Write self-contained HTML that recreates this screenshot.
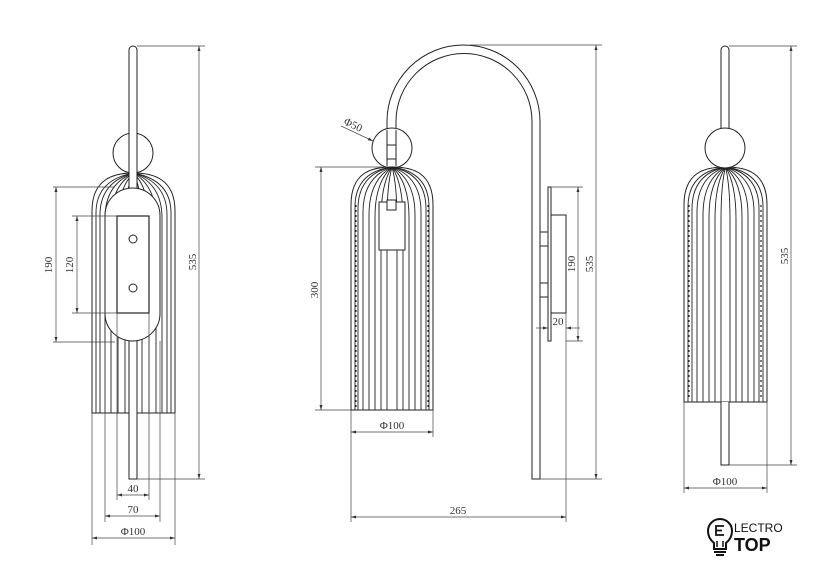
<!DOCTYPE html>
<html><head><meta charset="utf-8"><style>
html,body{margin:0;padding:0;background:#fff;}
svg{display:block;}
text{font-family:"Liberation Serif",serif;font-size:11px;fill:#333;}
</style></head><body>
<svg width="840" height="572" viewBox="0 0 840 572" xmlns="http://www.w3.org/2000/svg">
<defs>
<marker id="a" viewBox="0 0 10 10" refX="10" refY="5" markerWidth="7" markerHeight="5" orient="auto-start-reverse" markerUnits="userSpaceOnUse"><path d="M0,2 L10,5 L0,8 Z" fill="#333"/></marker>
</defs>
<g fill="none" stroke="#222" stroke-width="1">
<!-- LEFT VIEW -->
<path d="M92 413 V211 C92 178 115 173 133.5 173 C152 173 175 178 175 211 V413 Z" fill="#fff"/>
<g stroke-width="0.9">
<path d="M133.5 173 Q96 180 96 213 V413"/><path d="M133.5 173 Q100 182 100 215 V413"/>
<path d="M133.5 173 Q105 184 105 218 V413"/><path d="M133.5 173 Q111 186 111 220 V413"/>
<path d="M133.5 173 Q118 188 118 222 V413"/><path d="M133.5 173 Q125 190 125 224 V413"/>
<path d="M133.5 173 Q142 190 142 224 V413"/><path d="M133.5 173 Q149 188 149 222 V413"/>
<path d="M133.5 173 Q156 186 156 220 V413"/><path d="M133.5 173 Q162 184 162 218 V413"/>
<path d="M133.5 173 Q167 182 167 215 V413"/><path d="M133.5 173 Q171 180 171 213 V413"/>
</g>
<circle cx="133" cy="153" r="20" fill="#fff"/>
<rect x="129" y="46" width="8" height="150" rx="4" fill="#fff"/>
<rect x="129" y="330" width="8" height="149" fill="#fff"/>
<rect x="105" y="188" width="55" height="153" rx="27.5" fill="#fff"/>
<rect x="117" y="216" width="32" height="97" fill="#fff" stroke-width="1.2"/>
<circle cx="133" cy="239" r="4"/><circle cx="133" cy="288" r="4"/>
<!-- MIDDLE VIEW -->
<path d="M387 130 V121.5 A76.5 76.5 0 0 1 540 121.5 V479 H532 V121.5 A68 68 0 0 0 396 121.5 V130"/>
<circle cx="392" cy="148" r="20" fill="#fff"/>
<path d="M387 130 V166 M396 130 V166"/>
<rect x="387" y="145" width="9" height="14" fill="#fff"/>
<path d="M351 410 V205 C351 172 372 167 392 167 C412 167 433 172 433 205 V410 Z" fill="#fff"/>
<g stroke-width="0.9">
<path d="M392 167 Q355 172 355 207 V410"/><path d="M392 167 Q358 174 358 209 V410"/>
<path d="M392 167 Q363 177 363 212 V410"/><path d="M392 167 Q369 180 369 215 V410"/>
<path d="M392 167 Q375 182 375 217 V410"/><path d="M392 167 Q381 184 381 219 V410"/>
<path d="M392 167 Q387 185 387 220 V410"/><path d="M392 167 Q397 185 397 220 V410"/>
<path d="M392 167 Q403 184 403 219 V410"/><path d="M392 167 Q409 182 409 217 V410"/>
<path d="M392 167 Q415 180 415 215 V410"/><path d="M392 167 Q421 177 421 212 V410"/>
<path d="M392 167 Q426 174 426 209 V410"/><path d="M392 167 Q429 172 429 207 V410"/>
</g>
<path d="M356 205 V408 M428 205 V408" stroke-dasharray="2 3" stroke-width="1.2"/>
<rect x="379" y="202" width="26" height="48" fill="#fff"/>
<rect x="387" y="200" width="9" height="10" fill="#fff"/>
<rect x="548" y="187" width="3" height="154" fill="#fff"/>
<rect x="551" y="215" width="15" height="98"/>
<rect x="540" y="232" width="8" height="14"/><rect x="540" y="283" width="8" height="14"/>
<!-- RIGHT VIEW -->
<path d="M684 402 V205 C684 172 705 167 725.5 167 C746 167 767 172 767 205 V402 Z" fill="#fff"/>
<g stroke-width="0.9">
<path d="M725.5 167 Q688 172 688 207 V402"/><path d="M725.5 167 Q692 174 692 209 V402"/>
<path d="M725.5 167 Q697 177 697 212 V402"/><path d="M725.5 167 Q703 180 703 215 V402"/>
<path d="M725.5 167 Q709 182 709 217 V402"/><path d="M725.5 167 Q715 184 715 219 V402"/>
<path d="M725.5 167 Q721 185 721 220 V402"/><path d="M725.5 167 Q730 185 730 220 V402"/>
<path d="M725.5 167 Q736 184 736 219 V402"/><path d="M725.5 167 Q742 182 742 217 V402"/>
<path d="M725.5 167 Q748 180 748 215 V402"/><path d="M725.5 167 Q754 177 754 212 V402"/>
<path d="M725.5 167 Q759 174 759 209 V402"/><path d="M725.5 167 Q763 172 763 207 V402"/>
</g>
<path d="M689 205 V400 M761 205 V400" stroke-dasharray="2 3" stroke-width="1.2"/>
<circle cx="725" cy="148" r="20" fill="#fff"/>
<path d="M721 128 V50 A4 4 0 0 1 729 50 V128"/>
<path d="M721 402 V465 H729 V402" fill="#fff"/>
</g>
<!-- DIMENSIONS -->
<g fill="none" stroke="#444" stroke-width="0.7">
<path d="M137 46 H205 M137 479 H205"/>
<path d="M199 46 V479" marker-start="url(#a)" marker-end="url(#a)"/>
<path d="M53 187 H115 M53 342 H115"/>
<path d="M56 187 V342" marker-start="url(#a)" marker-end="url(#a)"/>
<path d="M72 216 H117 M72 313 H117"/>
<path d="M77 216 V313" marker-start="url(#a)" marker-end="url(#a)"/>
<path d="M92 413 V545 M175 413 V545 M105 341 V522 M160 341 V522 M117 313 V500 M149 313 V500"/>
<path d="M117 495 H149" marker-start="url(#a)" marker-end="url(#a)"/>
<path d="M105 516 H160" marker-start="url(#a)" marker-end="url(#a)"/>
<path d="M92 538 H175" marker-start="url(#a)" marker-end="url(#a)"/>
<path d="M470 45 H602 M540 479 H602"/>
<path d="M596 45 V479" marker-start="url(#a)" marker-end="url(#a)"/>
<path d="M551 187 H583 M566 341 H583"/>
<path d="M578 187 V341" marker-start="url(#a)" marker-end="url(#a)"/>
<path d="M536 328 H548" marker-end="url(#a)"/><path d="M580 328 H566" marker-end="url(#a)"/>
<path d="M315 167 H385 M315 410 H351"/>
<path d="M321 167 V410" marker-start="url(#a)" marker-end="url(#a)"/>
<path d="M351 410 V522 M433 410 V437 M566 313 V522"/>
<path d="M351 432 H433" marker-start="url(#a)" marker-end="url(#a)"/>
<path d="M351 517 H566" marker-start="url(#a)" marker-end="url(#a)"/>
<path d="M341 126 L373 141" marker-end="url(#a)"/>
<path d="M729 46 H797 M729 465 H797"/>
<path d="M791 46 V465" marker-start="url(#a)" marker-end="url(#a)"/>
<path d="M684 402 V493 M767 402 V493"/>
<path d="M684 488 H767" marker-start="url(#a)" marker-end="url(#a)"/>
</g>
<g>
<text x="133" y="492" text-anchor="middle">40</text>
<text x="133" y="513" text-anchor="middle">70</text>
<text x="133" y="535" text-anchor="middle">Φ100</text>
<text transform="translate(196 262) rotate(-90)" text-anchor="middle">535</text>
<text transform="translate(52 265) rotate(-90)" text-anchor="middle">190</text>
<text transform="translate(73 265) rotate(-90)" text-anchor="middle">120</text>
<text transform="translate(318 290) rotate(-90)" text-anchor="middle">300</text>
<text x="392" y="429" text-anchor="middle">Φ100</text>
<text x="458" y="514" text-anchor="middle">265</text>
<text x="558" y="325" text-anchor="middle">20</text>
<text transform="translate(575 264) rotate(-90)" text-anchor="middle">190</text>
<text transform="translate(593 264) rotate(-90)" text-anchor="middle">535</text>
<text transform="translate(343 124) rotate(25)">Φ50</text>
<text transform="translate(788 256) rotate(-90)" text-anchor="middle">535</text>
<text x="725" y="485" text-anchor="middle">Φ100</text>
</g>
<!-- LOGO -->
<g fill="none" stroke="#111" stroke-width="2">
<path d="M714 549 V543 C709 539 708 534 708 531 A12 12 0 0 1 732 531 C732 534 731 539 726 543 V549 Z"/>
<path d="M714 552 H726 M716 555 H724"/>
<path d="M724 526 H716 V535 H724 M716 530.5 H722" stroke-width="1.8"/>
<path d="M717 541 V547 M723 541 V547" stroke-width="1.5"/>
</g>
<text x="734" y="532" style="font-family:'Liberation Sans',sans-serif;font-size:12px;fill:#111;">LECTRO</text>
<text x="734" y="551" style="font-family:'Liberation Sans',sans-serif;font-size:18px;font-weight:bold;fill:#111;">TOP</text>
</svg>
</body></html>
